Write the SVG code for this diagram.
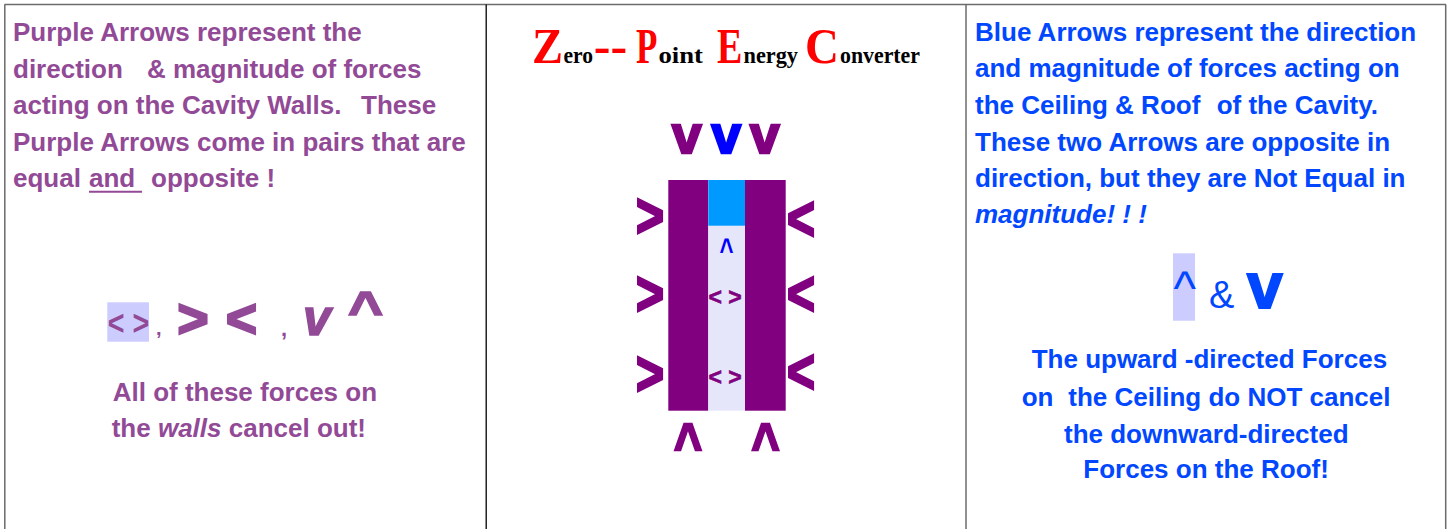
<svg xmlns="http://www.w3.org/2000/svg" width="1450" height="529" viewBox="0 0 1450 529">
<style>
.sans{font-family:"Liberation Sans",Arial,sans-serif;font-weight:bold}
.serif{font-family:"Liberation Serif","Times New Roman",serif}
.pt{fill:#924a97;font-size:26px}
.bt{fill:#0047ff;font-size:26px}
.frame{stroke:#6b6b6b;stroke-width:1.5;fill:none}
.pu{fill:#800080}
.bl{fill:#0000ff}
.thickp{stroke:#800080;stroke-linejoin:miter}
.thickl{stroke:#924a97;stroke-linejoin:miter}
.big{fill:#ff0000;font-size:50px;font-weight:bold}
.small{fill:#000;font-size:23px;font-weight:bold}
</style>
<rect width="1450" height="529" fill="#fff"/>
<g id="frame">
<line class="frame" x1="4.5" y1="4.5" x2="1446" y2="4.5"/>
<line class="frame" x1="4.8" y1="4.5" x2="4.8" y2="529"/>
<line x1="486.2" y1="4.5" x2="486.2" y2="529" stroke="#000" stroke-width="1.3"/>
<line class="frame" x1="966" y1="4.5" x2="966" y2="529"/>
<line class="frame" x1="1445.7" y1="4.5" x2="1445.7" y2="529"/>
</g>
<g id="left-panel" class="sans">
<text class="pt" x="13" y="41">Purple Arrows represent the</text>
<text class="pt" y="77.5"><tspan x="13">direction</tspan><tspan x="147">&amp; magnitude of forces</tspan></text>
<text class="pt" y="114"><tspan x="13">acting on the Cavity Walls.</tspan><tspan x="361">These</tspan></text>
<text class="pt" x="13" y="150.6">Purple Arrows come in pairs that are</text>
<text class="pt" y="187"><tspan x="13">equal</tspan><tspan x="89">and</tspan><tspan x="151">opposite !</tspan></text>
<line x1="89" y1="191.7" x2="142" y2="191.7" stroke="#924a97" stroke-width="2"/>
<g id="left-symbols">
<rect x="107.3" y="302.3" width="41.7" height="39.4" fill="#ccccff"/>
<text class="pt" transform="translate(107.7,335.3) scale(1,1.25)" style="font-size:28.7px">&lt; &gt;</text>
<text class="pt" x="156" y="335" style="font-size:20px">,</text>
<text class="pt thickl" x="177.5" y="337" stroke-width="2.5" style="font-size:53px">&gt;</text>
<text class="pt thickl" x="226" y="337" stroke-width="2.5" style="font-size:53px">&lt;</text>
<text class="pt" x="281" y="336" style="font-size:22px">,</text>
<text class="pt thickl" x="303" y="334.5" stroke-width="1.5" style="font-size:50px;font-style:italic">v</text>
<text class="pt thickl" transform="translate(348,327.5) scale(1,0.86)" stroke-width="2" style="font-size:60px">^</text>
</g>
<text class="pt" x="112.7" y="400.7">All of these forces on</text>
<text class="pt" x="111.7" y="436.7">the <tspan font-style="italic">walls</tspan> cancel out!</text>
</g>
<g id="title" class="serif">
<text class="big" transform="translate(532,63.3) scale(0.93,1)">Z</text>
<text class="small" x="563.5" y="63.3" textLength="29.5" lengthAdjust="spacingAndGlyphs">ero</text>
<text class="big" x="593.8" y="63.3">--</text>
<text class="big" transform="translate(636,63.3) scale(0.7,1)">P</text>
<text class="small" x="658.5" y="63.3" textLength="44.5" lengthAdjust="spacingAndGlyphs">oint</text>
<text class="big" transform="translate(717,63.3) scale(0.76,1)">E</text>
<text class="small" x="743.5" y="63.3" textLength="54.5" lengthAdjust="spacingAndGlyphs">nergy</text>
<text class="big" transform="translate(805,63.3) scale(0.94,1)">C</text>
<text class="small" x="840" y="63.3" textLength="80" lengthAdjust="spacingAndGlyphs">onverter</text>
</g>
<g id="cavity" class="sans">
<text class="pu thickp" x="672" y="153" stroke-width="2.5" style="font-size:53px">v</text>
<text class="bl" x="711.5" y="153" stroke="#0000ff" stroke-width="2.5" style="font-size:53px">v</text>
<text class="pu thickp" x="750" y="153" stroke-width="2.5" style="font-size:53px">v</text>
<rect id="left-wall" class="pu" x="668.3" y="180" width="40" height="230.7"/>
<rect id="gap" x="708.3" y="180" width="36.7" height="230.7" fill="#e6e6fa"/>
<rect id="ceiling" x="708.3" y="180" width="36.7" height="45.7" fill="#0099ff"/>
<rect id="right-wall" class="pu" x="745" y="180" width="40.7" height="230.7"/>
<text class="bl" transform="translate(719.5,261) scale(1,1.4)" style="font-size:24px">^</text>
<text class="pu thickp" x="708.5" y="305" stroke-width="0.6" style="font-size:23px">&lt; &gt;</text>
<text class="pu thickp" x="708.5" y="384.5" stroke-width="0.6" style="font-size:23px">&lt; &gt;</text>
<g id="side-arrows" class="pu thickp" stroke-width="2" style="font-size:48px">
<text transform="translate(636,237.4) scale(1,1.3)">&gt;</text>
<text transform="translate(636,315.4) scale(1,1.3)">&gt;</text>
<text transform="translate(636,395.4) scale(1,1.3)">&gt;</text>
<text transform="translate(787,240.4) scale(1,1.3)">&lt;</text>
<text transform="translate(787,315.4) scale(1,1.3)">&lt;</text>
<text transform="translate(787,393.4) scale(1,1.3)">&lt;</text>
</g>
<text class="pu thickp" transform="translate(674,464.8) scale(1,1.22)" stroke-width="2" style="font-size:48px">^</text>
<text class="pu thickp" transform="translate(751.6,464.8) scale(1,1.22)" stroke-width="2" style="font-size:48px">^</text>
</g>
<g id="right-panel" class="sans">
<text class="bt" x="975" y="40.7">Blue Arrows represent the direction</text>
<text class="bt" x="975" y="77.3">and magnitude of forces acting on</text>
<text class="bt" y="114"><tspan x="975">the Ceiling &amp; Roof</tspan><tspan x="1216.7">of the Cavity.</tspan></text>
<text class="bt" x="975" y="150.7">These two Arrows are opposite in</text>
<text class="bt" x="975" y="186.7">direction, but they are Not Equal in</text>
<text class="bt" x="975" y="223.3" font-style="italic">magnitude! ! !</text>
<g id="right-symbols">
<rect x="1173" y="253.3" width="22" height="67.4" fill="#ccccff"/>
<text x="1173.5" y="305" style="font-size:48px;font-weight:normal" fill="#0047ff">^</text>
<text x="1209" y="308" style="font-size:38px;font-weight:normal" fill="#0047ff">&amp;</text>
<text x="1247" y="307.5" stroke="#0047ff" stroke-width="2" style="font-size:64px" fill="#0047ff">v</text>
</g>
<text class="bt" x="1031.7" y="368.3">The upward -directed Forces</text>
<text class="bt" y="405.7"><tspan x="1021.7">on</tspan><tspan x="1068.3">the Ceiling do NOT cancel</tspan></text>
<text class="bt" x="1064" y="442.7">the downward-directed</text>
<text class="bt" x="1083.3" y="478.3">Forces on the Roof!</text>
</g>
</svg>
